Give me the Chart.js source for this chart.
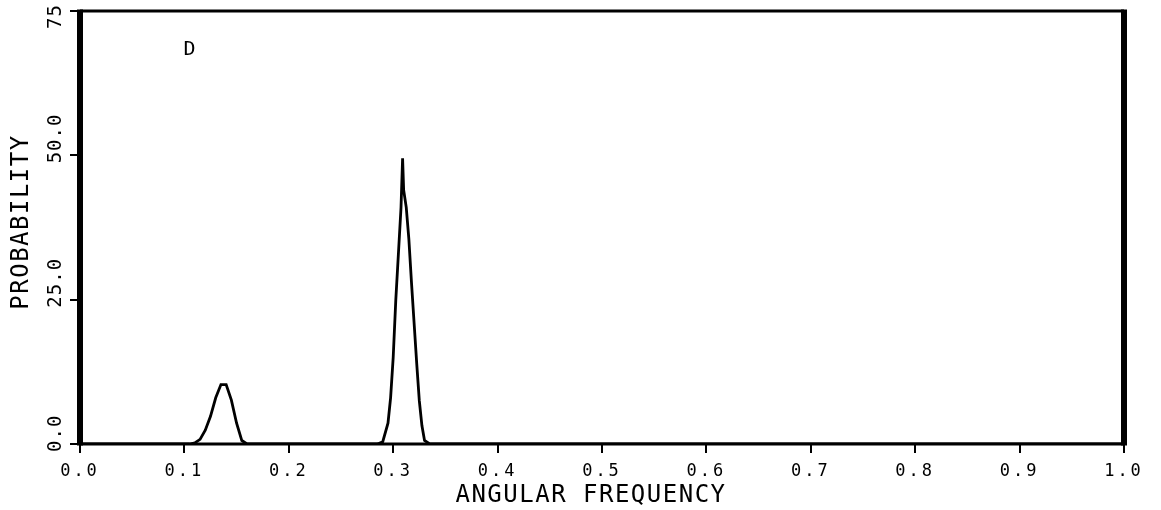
<!DOCTYPE html>
<html>
<head>
<meta charset="utf-8">
<script src="https://cdn.jsdelivr.net/npm/chart.js@4/dist/chart.umd.min.js"></script>
<style>
  html, body { margin: 0; padding: 0; background: #fff; }
  #wrap { width: 1161px; height: 510px; }
</style>
</head>
<body>
<div id="wrap"><canvas id="chart"></canvas></div>
<script>
// values
const freq = [0.0, 0.105, 0.110, 0.115, 0.120, 0.125, 0.130, 0.135, 0.140, 0.145, 0.150, 0.155, 0.160,
              0.285, 0.290, 0.295, 0.2975, 0.300, 0.3025, 0.305, 0.3075, 0.309, 0.310, 0.3125, 0.315,
              0.3175, 0.320, 0.3225, 0.325, 0.3275, 0.330, 0.335, 1.0];
const prob = [0, 0, 0.2, 0.8, 2.4, 4.8, 8.0, 10.3, 10.3, 7.6, 3.6, 0.6, 0,
              0, 0.4, 3.6, 8, 15, 25, 33, 41, 49.5, 44, 41, 35.5,
              28, 21, 14, 7.5, 3.2, 0.6, 0, 0];

const xTicks = [0.0, 0.1, 0.2, 0.3, 0.4, 0.5, 0.6, 0.7, 0.8, 0.9, 1.0];
const yTicks = [0, 25, 50, 75];
const yTickLabels = ['0.0', '25.0', '50.0', '75'];
const xTitle = 'ANGULAR FREQUENCY';
const yTitle = 'PROBABILITY';
const panelLabel = 'D';

const MONO = "'DejaVu Sans Mono', 'Liberation Mono', monospace";

const framePlugin = {
    id: 'frame',
    beforeDraw(chart) {
        chart.ctx.letterSpacing = '3px';
    },
    afterDatasetsDraw(chart) {
        const { ctx, chartArea: a, scales } = chart;
        ctx.save();
        ctx.letterSpacing = '0px';
        ctx.strokeStyle = '#000';
        ctx.lineWidth = 3;
        ctx.beginPath();
        ctx.moveTo(a.left, a.top); ctx.lineTo(a.right, a.top);
        ctx.moveTo(a.left, a.bottom); ctx.lineTo(a.right, a.bottom);
        ctx.stroke();
        ctx.lineWidth = 6;
        ctx.beginPath();
        ctx.moveTo(a.left, a.top - 1.5); ctx.lineTo(a.left, a.bottom + 1.5);
        ctx.moveTo(a.right, a.top - 1.5); ctx.lineTo(a.right, a.bottom + 1.5);
        ctx.stroke();

        ctx.fillStyle = '#000';
        // panel letter
        ctx.font = `20px ${MONO}`;
        ctx.textAlign = 'center';
        ctx.textBaseline = 'middle';
        ctx.fillText(panelLabel, scales.x.getPixelForValue(0.105), scales.y.getPixelForValue(68.3));

        // y tick labels, rotated, reading upwards from just below the tick
        ctx.font = `19px ${MONO}`;
        ctx.letterSpacing = '1px';
        yTicks.forEach((v, i) => {
            const w = ctx.measureText(yTickLabels[i]).width;
            const start = Math.max(scales.y.getPixelForValue(v) + 8, 4 + w);
            ctx.save();
            ctx.translate(56, start);
            ctx.rotate(-Math.PI / 2);
            ctx.textAlign = 'left';
            ctx.textBaseline = 'middle';
            ctx.fillText(yTickLabels[i], 0, 0);
            ctx.restore();
        });

        // axis titles
        ctx.font = `24px ${MONO}`;
        ctx.letterSpacing = '1.5px';
        ctx.textAlign = 'center';
        ctx.textBaseline = 'middle';
        ctx.fillText(xTitle, 591, 496);
        ctx.save();
        ctx.translate(22, 222);
        ctx.rotate(-Math.PI / 2);
        ctx.fillText(yTitle, 0, 0);
        ctx.restore();
        ctx.restore();
    },
    afterDraw(chart) {
        chart.ctx.letterSpacing = '0px';
    }
};

new Chart(document.getElementById('chart'), {
    type: 'line',
    data: {
        datasets: [{
            data: freq.map((f, i) => ({ x: f, y: prob[i] })),
            borderColor: '#000',
            borderWidth: 2.8,
            pointRadius: 0,
            tension: 0,
            fill: false
        }]
    },
    options: {
        responsive: true,
        maintainAspectRatio: false,
        animation: false,
        layout: { padding: { top: 11, right: 37, left: 0, bottom: 0 } },
        plugins: { legend: { display: false }, tooltip: { enabled: false } },
        scales: {
            x: {
                type: 'linear',
                min: 0,
                max: 1,
                afterBuildTicks: s => { s.ticks = xTicks.map(v => ({ value: v })); },
                afterFit: s => { s.height = 66; },
                border: { display: false },
                grid: { drawOnChartArea: false, color: '#000', lineWidth: 2, tickLength: 9 },
                ticks: {
                    color: '#000',
                    font: { family: MONO, size: 17 },
                    padding: 8,
                    maxRotation: 0,
                    callback: v => v.toFixed(1)
                }
            },
            y: {
                min: 0,
                max: 75,
                afterBuildTicks: s => { s.ticks = yTicks.map(v => ({ value: v })); },
                afterFit: s => { s.width = 80; },
                border: { display: false },
                grid: { drawOnChartArea: false, color: '#000', lineWidth: 2, tickLength: 10 },
                ticks: { color: 'rgba(0,0,0,0)', font: { size: 1 } }
            }
        }
    },
    plugins: [framePlugin]
});
</script>
</body>
</html>
